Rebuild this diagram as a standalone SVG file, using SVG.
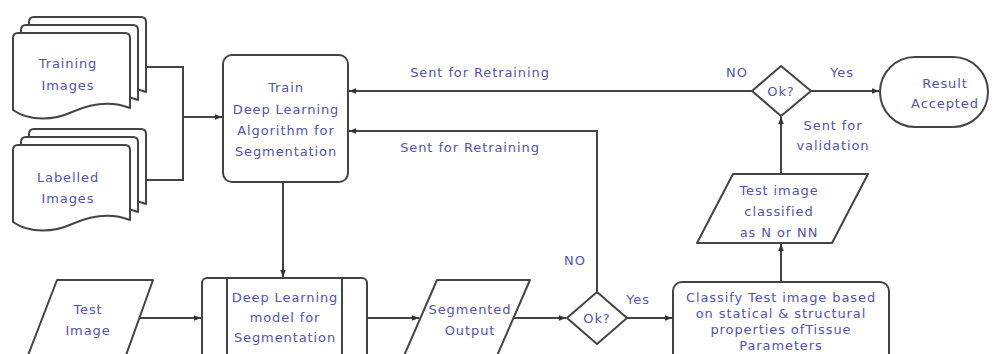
<svg xmlns="http://www.w3.org/2000/svg" width="993" height="354" viewBox="0 0 993 354">
<defs>
<marker id="ah" viewBox="0 0 10 10" refX="10" refY="5" markerWidth="7" markerHeight="7" orient="auto" markerUnits="userSpaceOnUse"><path d="M0,1 L10,5 L0,9 z" fill="#333"/></marker>
<path id="doc" d="M18,33 H125 Q130,33 130,38 V108 C110,100 90,104 72,112 C55,120 30,122 13,110 V38 Q13,33 18,33 Z"/>
</defs>
<style>
.s{fill:#fff;stroke:#444;stroke-width:2;stroke-linejoin:round}
.c{fill:none;stroke:#444;stroke-width:2}
.a{marker-end:url(#ah)}
text{font-family:"DejaVu Sans",sans-serif;font-size:13px;letter-spacing:0.9px;fill:#5454aa;text-anchor:middle}
</style>
<rect width="993" height="354" fill="#fff"/>
<g id="connectors">
<polyline class="c" points="146,67 183,67 183,180 146,180"/>
<line class="c a" x1="183" y1="117" x2="222" y2="117"/>
<line class="c a" x1="283" y1="182" x2="283" y2="277"/>
<line class="c a" x1="140" y1="318" x2="201" y2="318"/>
<line class="c a" x1="367" y1="318" x2="419" y2="318"/>
<line class="c a" x1="513" y1="318" x2="566" y2="318"/>
<line class="c a" x1="627" y1="318" x2="672" y2="318"/>
<polyline class="c a" points="597,292 597,131 349,131"/>
<line class="c a" x1="781" y1="282" x2="781" y2="244"/>
<line class="c a" x1="781" y1="174" x2="781" y2="117"/>
<line class="c a" x1="752" y1="91" x2="349" y2="91"/>
<line class="c a" x1="811" y1="91" x2="879" y2="91"/>
<text x="480" y="77">Sent for Retraining</text>
<text x="470" y="152">Sent for Retraining</text>
<text x="737" y="77">NO</text>
<text x="842" y="77">Yes</text>
<text x="833" y="130">Sent for</text>
<text x="833" y="150">validation</text>
<text x="575" y="265">NO</text>
<text x="638" y="304">Yes</text>
</g>
<g id="training-images">
<use href="#doc" class="s" transform="translate(16,-16)"/>
<use href="#doc" class="s" transform="translate(8,-8)"/>
<use href="#doc" class="s"/>
<text x="68" y="68">Training</text>
<text x="68" y="90">Images</text>
</g>
<g id="labelled-images">
<use href="#doc" class="s" transform="translate(16,96)"/>
<use href="#doc" class="s" transform="translate(8,104)"/>
<use href="#doc" class="s" transform="translate(0,112)"/>
<text x="68" y="182">Labelled</text>
<text x="68" y="203">Images</text>
</g>
<g id="train">
<rect class="s" x="223" y="55" width="125" height="127" rx="9"/>
<text x="286" y="92">Train</text>
<text x="286" y="114">Deep Learning</text>
<text x="286" y="135">Algorithm  for</text>
<text x="286" y="156">Segmentation</text>
</g>
<g id="test-image">
<path class="s" d="M57,280 H153 L125,358 H27 Z"/>
<text x="88" y="314">Test</text>
<text x="88" y="335">Image</text>
</g>
<g id="dl-model">
<rect class="s" x="202" y="278" width="165" height="82" rx="5"/>
<line class="c" x1="227" y1="278" x2="227" y2="360"/>
<line class="c" x1="342" y1="278" x2="342" y2="360"/>
<text x="285" y="302">Deep Learning</text>
<text x="285" y="322">model for</text>
<text x="285" y="342">Segmentation</text>
</g>
<g id="segmented-output">
<path class="s" d="M437,280 H530 L496,358 H403 Z"/>
<text x="470" y="314">Segmented</text>
<text x="470" y="335">Output</text>
</g>
<g id="ok1">
<path class="s" d="M597,292 L627,318 L597,344 L567,318 Z"/>
<text x="597" y="323">Ok?</text>
</g>
<g id="classify">
<rect class="s" x="673" y="282" width="216" height="80" rx="9"/>
<text x="781" y="302">Classify Test image based</text>
<text x="781" y="318">on statical &amp; structural</text>
<text x="781" y="334">properties ofTissue</text>
<text x="781" y="350">Parameters</text>
</g>
<g id="test-classified">
<path class="s" d="M733,174 H868 L832,243 H697 Z"/>
<text x="779" y="195">Test image</text>
<text x="779" y="216">classified</text>
<text x="779" y="237">as N or NN</text>
</g>
<g id="ok2">
<path class="s" d="M781,66 L811,91 L781,116 L752,91 Z"/>
<text x="781" y="96">Ok?</text>
</g>
<g id="result">
<rect class="s" x="880" y="57" width="108" height="70" rx="35"/>
<text x="945" y="88">Result</text>
<text x="945" y="108">Accepted</text>
</g>
</svg>
